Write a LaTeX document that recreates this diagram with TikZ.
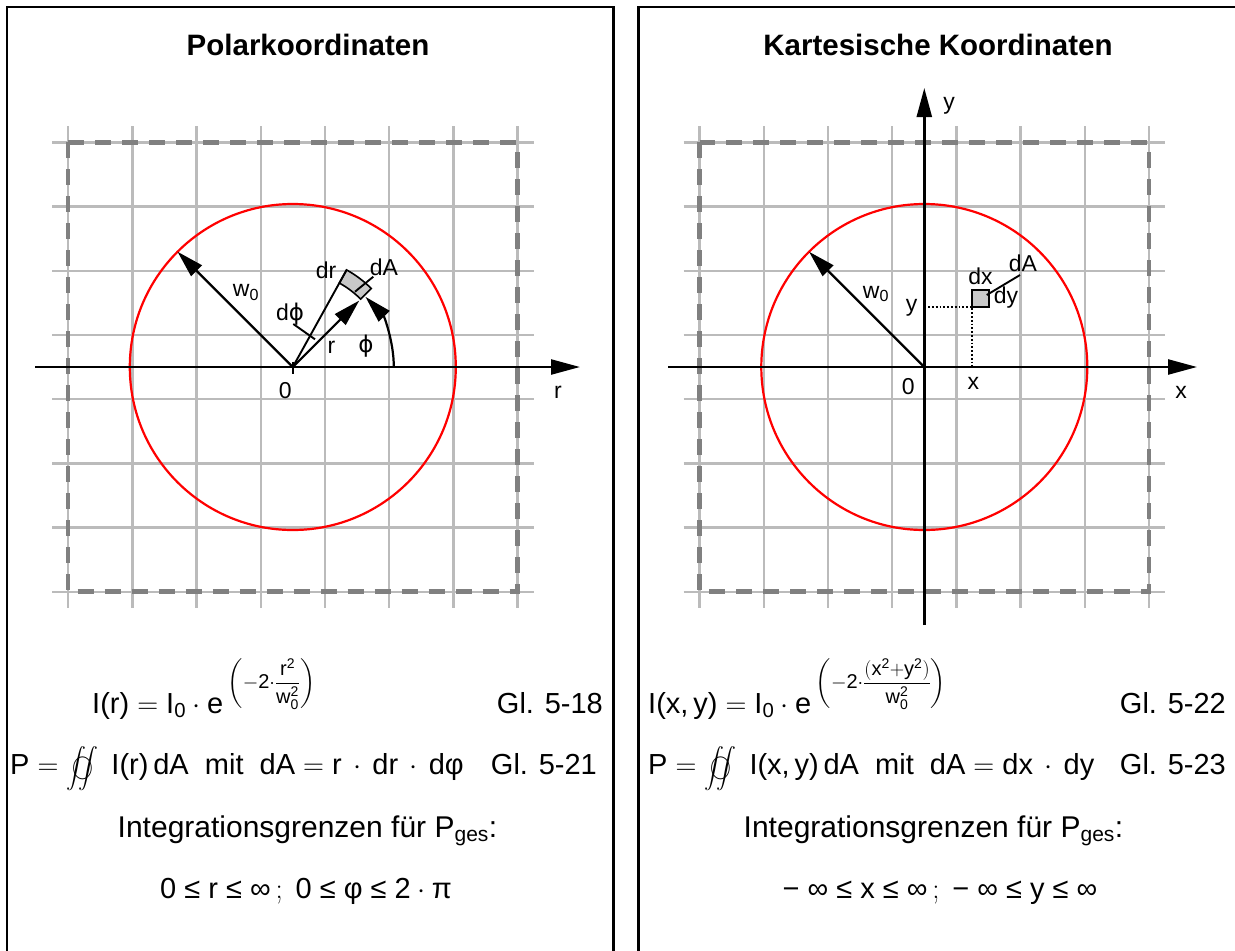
\RequirePackage{fix-cm}
\documentclass[tikz,border=0pt]{standalone}
\usepackage{amsmath}
\usepackage{fontspec}
\setmainfont{Liberation Sans}
\newfontfamily\dejavu{DejaVu Sans}
\usetikzlibrary{arrows.meta,calc}
\newcommand{\T}[1]{\text{#1}}
\newcommand{\fsz}[1]{\fontsize{#1}{#1}\selectfont}
\newcommand{\myoiint}{\mathop{\ooalign{\scalebox{0.8}{$\displaystyle\iint$}\cr\hidewidth\scalebox{0.72}[0.85]{$\bigcirc$}\hidewidth\cr}}}
\newcommand{\symphi}{{\dejavu ϕ}}
\newcommand{\LE}{\mathrel{\T{≤}}}
\newcommand{\INF}{\mathord{\T{∞}}}
\definecolor{gridc}{HTML}{BBBBBB}
\definecolor{dashc}{HTML}{808080}
\definecolor{boxc}{HTML}{C8C8C8}
\begin{document}
\begin{tikzpicture}[x=1pt,y=-1pt,
  frame/.style={line width=2.5pt,black},
  gridl/.style={line width=2.4pt,gridc},
  dashsq/.style={line width=4.5pt,dashc,dash pattern=on 16pt off 11pt},
  circ/.style={line width=2.2pt,red},
  axis/.style={line width=2.4pt,black,-{Triangle[length=29pt,width=15pt]}},
  vec/.style={line width=2.2pt,black,-{Triangle[length=27pt,width=15pt]}},
  thin line/.style={line width=1.9pt,black},
  dotl/.style={line width=1.8pt,black,dotted},
  elem/.style={line width=1.6pt,black,fill=boxc},
  lbl/.style={inner sep=0pt,anchor=base,font=\fsz{23}},
  eq/.style={inner sep=0pt,font=\fsz{29}},
  ttl/.style={inner sep=0pt,anchor=base,font=\bfseries\fsz{29.5}}]
\useasboundingbox (0,0) rectangle (1235,951);
\clip (0,0) rectangle (1235,951);
% frames
\draw[frame] (7,960) -- (7,7) -- (613.7,7) -- (613.7,960);
\draw[frame] (638.7,960) -- (638.7,7) -- (1245,7);
% titles
\node[ttl] (t1) at (308,55) {Polarkoordinaten};
\node[ttl] (t2) at (938,55) {Kartesische Koordinaten};
% grids, dashed squares, circles
\foreach \dx in {0,631.5}{
  \foreach \k in {0,...,7}{
    \draw[gridl] ({68.1+64.2*\k+\dx},126) -- ({68.1+64.2*\k+\dx},608);
    \draw[gridl] ({52+\dx},{142.3+64.2*\k}) -- ({533.5+\dx},{142.3+64.2*\k});
  }
  \draw[dashsq] ({68.1+\dx},142.3) rectangle ({517.5+\dx},591.7);
  \draw[circ] ({292.8+\dx},367) circle[radius=163pt];
}
% ---------------- left panel ----------------
\coordinate (O) at (292.8,367);
\coordinate (axLa) at (35,367);
\coordinate (axLb) at (580,367);
\coordinate (tkA) at (292.8,361.5);
\coordinate (tkB) at (292.8,373.5);
\coordinate (W) at ($(O)+(-135:163)$);
\coordinate (Rt) at ($(O)+(-45:94)$);
\coordinate (Dr) at ($(O)+(-61:111)$);
\coordinate (dpA) at (293.3,324);
\coordinate (dpB) at (315,339.3);
\coordinate (daA) at (373.3,276.7);
\coordinate (daB) at (355,291.7);
\draw[axis] (axLa) -- (axLb);
\draw[line width=2.2pt] (tkA) -- (tkB);
\draw[vec] (O) -- (W);
\draw[elem,shift={(292.8,367)}] (-45:96) -- (-45:111) arc[start angle=-45,end angle=-61,radius=111] -- (-61:96) arc[start angle=-61,end angle=-45,radius=96] -- cycle;
\draw[thin line] (O) -- (Dr);
\draw[vec] (O) -- (Rt);
\draw[vec,shift={(292.8,367)}] (0:101) arc[start angle=0,end angle=-44,radius=101];
\draw[thin line] (dpA) -- (dpB);
\draw[thin line] (daA) -- (daB);
\node[lbl] (lr) at (558,398.3) {r};
\node[lbl] (l0) at (285.3,398.3) {0};
\node[lbl] (lw) at (246,296.7) {w\textsubscript{0}};
\node[lbl] (ldp) at (290,320) {d\symphi};
\node[lbl] (ldr) at (326,278.3) {dr};
\node[lbl] (ldA) at (384,275) {dA};
\node[lbl] (lrr) at (331.5,353.3) {r};
\node[lbl] (lph) at (366,352) {\symphi};
% ---------------- right panel ----------------
\coordinate (O2) at (924.3,367);
\coordinate (axXa) at (668,367);
\coordinate (axXb) at (1197,367);
\coordinate (axYa) at (924.3,625);
\coordinate (axYb) at (924.3,88);
\coordinate (W2) at ($(O2)+(-135:163)$);
\coordinate (Pxy) at (972,306.7);
\coordinate (Py) at (924.3,306.7);
\coordinate (Px) at (972,367);
\coordinate (ea) at (986.7,295);
\coordinate (eb) at (1020,275);
\draw[axis] (axXa) -- (axXb);
\draw[axis] (axYa) -- (axYb);
\draw[vec] (O2) -- (W2);
\draw[dotl] (Py) -- (Pxy) -- (Px);
\draw[elem] (Pxy) rectangle (989,290);
\draw[thin line] (ea) -- (eb);
\node[lbl] (rx) at (1181,398) {x};
\node[lbl] (ry) at (949,109) {y};
\node[lbl] (r0) at (908.3,394) {0};
\node[lbl] (rw) at (876,298.3) {w\textsubscript{0}};
\node[lbl] (ryy) at (911.7,311) {y};
\node[lbl] (rxx) at (973.3,389.3) {x};
\node[lbl] (rdx) at (980.5,284.3) {dx};
\node[lbl] (rdy) at (1006,303.3) {dy};
\node[lbl] (rdA) at (1023,271.7) {dA};
% ---------------- equations left ----------------
\node[eq,anchor=base west] (e1) at (92,713) {$\T{I(r)} = \T{I}_{\T{0}}\cdot\T{e}$};
\node[eq,anchor=west,font=\fsz{20}] (x1) at ($(e1.base east)+(4,-29)$) {$\left(-\T{2}{\cdot}\dfrac{\T{r}^{\T{2}}}{\T{w}_{\T{0}}^{\T{2}}}\right)$};
\node[eq,anchor=base east] (g1) at (603,713) {Gl. 5-18};
\node[eq,anchor=base west] (e2) at (10,774) {$\T{P} = \myoiint\ \T{I(r)}\,\T{dA}\ \ \T{mit}\ \ \T{dA} = \T{r}\,\cdot\,\T{dr}\,\cdot\,\T{dφ}$};
\node[eq,anchor=base east] (g2) at (597,774) {Gl. 5-21};
\node[eq,anchor=base,font=\fsz{30}] (i1) at (307.5,837) {Integrationsgrenzen für P\textsubscript{ges}:};
\node[eq,anchor=base] (b1) at (306,898) {$\T{0}\LE\T{r}\LE\INF\,;\ \T{0}\LE\T{φ}\LE\T{2}\cdot\T{π}$};
% ---------------- equations right ----------------
\node[eq,anchor=base west] (e3) at (648,713) {$\T{I(x,\,y)} = \T{I}_{\T{0}}\cdot\T{e}$};
\node[eq,anchor=west,font=\fsz{20}] (x3) at ($(e3.base east)+(4,-29)$) {$\left(-\T{2}{\cdot}\dfrac{(\T{x}^{\T{2}}{+}\T{y}^{\T{2}})}{\T{w}_{\T{0}}^{\T{2}}}\right)$};
\node[eq,anchor=base east] (g3) at (1226,713) {Gl. 5-22};
\node[eq,anchor=base west] (e4) at (648,774) {$\T{P} = \myoiint\ \T{I(x,\,y)}\,\T{dA}\ \ \T{mit}\ \ \T{dA} = \T{dx}\,\cdot\,\T{dy}$};
\node[eq,anchor=base east] (g4) at (1226,774) {Gl. 5-23};
\node[eq,anchor=base,font=\fsz{30}] (i2) at (933.5,837) {Integrationsgrenzen für P\textsubscript{ges}:};
\node[eq,anchor=base] (b2) at (940,898) {$\T{−}\;\INF\LE\T{x}\LE\INF\,;\ \T{−}\;\INF\LE\T{y}\LE\INF$};
\end{tikzpicture}
\end{document}
